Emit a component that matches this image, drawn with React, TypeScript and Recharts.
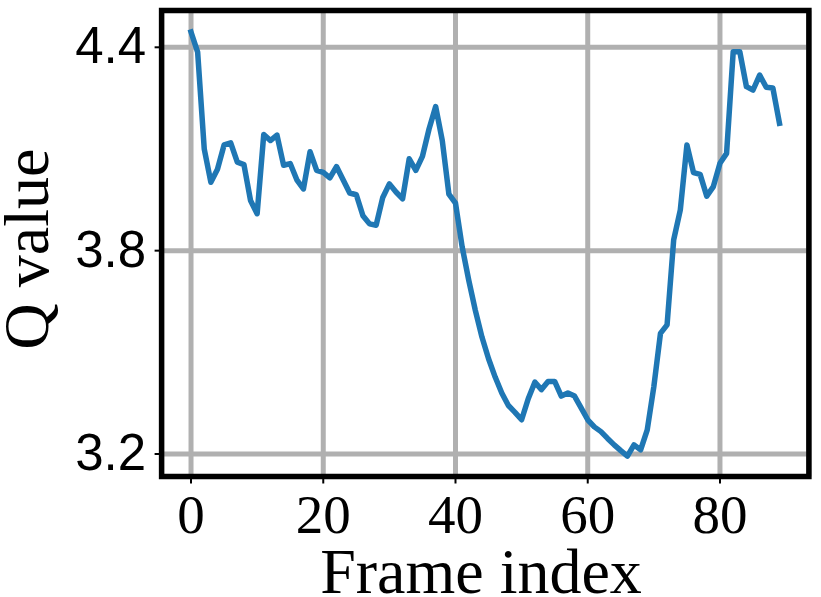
import { LineChart, Line, XAxis, YAxis, CartesianGrid, ReferenceArea } from "recharts";

// Q value per frame, frame index = position in the array
const qValues = [
  4.445, 4.386, 4.1, 4.002, 4.04, 4.112, 4.118, 4.061, 4.054, 3.948,
  3.909, 4.143, 4.125, 4.141, 4.052, 4.057, 4.009, 3.982, 4.092, 4.037,
  4.031, 4.015, 4.048, 4.009, 3.97, 3.965, 3.903, 3.879, 3.875, 3.957,
  3.997, 3.973, 3.953, 4.071, 4.037, 4.078, 4.159, 4.225, 4.125, 3.967,
  3.94, 3.812, 3.713, 3.624, 3.545, 3.481, 3.427, 3.38, 3.343, 3.323,
  3.301, 3.363, 3.412, 3.39, 3.414, 3.414, 3.371, 3.38, 3.371, 3.336,
  3.301, 3.28, 3.266, 3.246, 3.227, 3.21, 3.194, 3.227, 3.212, 3.271,
  3.399, 3.556, 3.581, 3.832, 3.92, 4.112, 4.03, 4.025, 3.961, 3.989,
  4.058, 4.087, 4.387, 4.387, 4.284, 4.274, 4.318, 4.282, 4.28, 4.176,
];

const xTicks = [0, 20, 40, 60, 80];
const yTicks = [3.2, 3.8, 4.4];

const X_DOMAIN = [-4.45, 93.45];
const Y_DOMAIN = [3.1336, 4.5086];

const SERIF = "'Liberation Serif', 'Times New Roman', serif";
const SANS = "'Liberation Sans', Arial, sans-serif";

const data = qValues.map((q, i) => ({ frame: i, q }));

const XTick = ({ x, y, payload }: any) => (
  <text x={x} y={y + 49} textAnchor="middle" fontFamily={SERIF} fontSize={55} fill="#000">
    {payload.value}
  </text>
);

const YTick = ({ x, y, payload }: any) => (
  <text x={x} y={y + 16} textAnchor="end" fontFamily={SANS} fontSize={51} fill="#000">
    {Number(payload.value).toFixed(1)}
  </text>
);

export default function App() {
  return (
    <div style={{ position: "absolute", left: 0, top: 0 }}>
      <LineChart
        width={821}
        height={597}
        data={data}
        margin={{ top: 10.5, right: 12.1, bottom: 60.5, left: 0 }}
      >
        <CartesianGrid stroke="#b0b0b0" strokeWidth={5} />
        <XAxis
          type="number"
          dataKey="frame"
          domain={X_DOMAIN}
          ticks={xTicks}
          height={60}
          axisLine={false}
          tickLine={{ stroke: "#000", strokeWidth: 2 }}
          tickSize={7}
          tickMargin={0}
          tick={<XTick />}
          label={{
            content: () => (
              <text x={481} y={593} textAnchor="middle" fontFamily={SERIF} fontSize={64} fill="#000">
                Frame index
              </text>
            ),
          }}
        />
        <YAxis
          type="number"
          domain={Y_DOMAIN}
          ticks={yTicks}
          width={161.6}
          axisLine={false}
          tickLine={{ stroke: "#000", strokeWidth: 2 }}
          tickSize={7}
          tickMargin={8.5}
          tick={<YTick />}
          label={{
            content: () => (
              <text
                x={48}
                y={249}
                transform="rotate(-90, 48, 249)"
                textAnchor="middle"
                fontFamily={SERIF}
                fontSize={64}
                fill="#000"
              >
                Q value
              </text>
            ),
          }}
        />
        <Line
          type="linear"
          dataKey="q"
          stroke="#1f77b4"
          strokeWidth={5.5}
          strokeLinejoin="round"
          strokeLinecap="square"
          dot={false}
          isAnimationActive={false}
        />
        <ReferenceArea
          x1={X_DOMAIN[0]}
          x2={X_DOMAIN[1]}
          y1={Y_DOMAIN[0]}
          y2={Y_DOMAIN[1]}
          fill="none"
          stroke="#000"
          strokeWidth={5.5}
          ifOverflow="visible"
        />
      </LineChart>
    </div>
  );
}
